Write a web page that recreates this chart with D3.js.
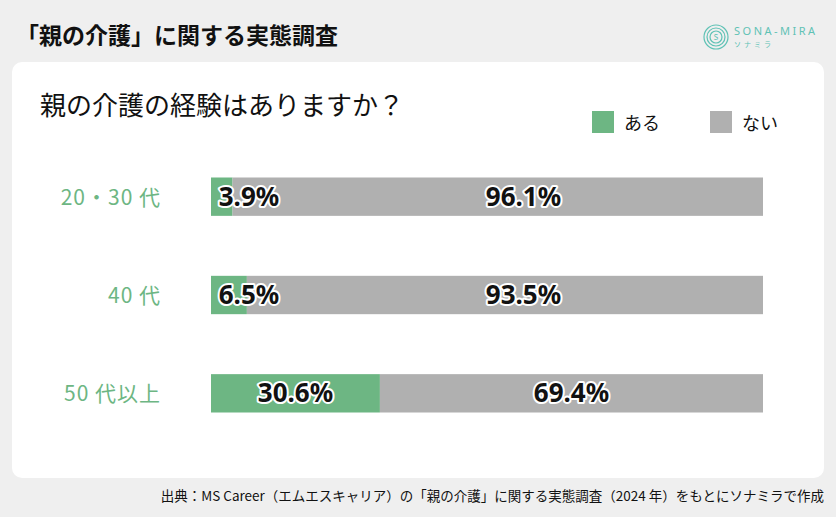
<!DOCTYPE html>
<html><head><meta charset="utf-8">
<script src="https://cdn.jsdelivr.net/npm/d3@7"></script>
<style>body{margin:0;background:#efefef;font-family:"Noto Sans CJK JP","Noto Sans",sans-serif;}</style>
</head><body><svg id="c" width="836" height="517"></svg>
<script>
// data
let categories = ['20・30 代', '40 代', '50 代以上'];
let aru = [3.9, 6.5, 30.6];
let nai = [96.1, 93.5, 69.4];
let legendLabels = ['ある', 'ない'];

let green = '#6db683', grey = '#b0b0b0';
let svg = d3.select('#c');

svg.append('rect').attr('width', 836).attr('height', 517).attr('fill', '#efefef');
svg.append('rect').attr('x', 12).attr('y', 62).attr('width', 812).attr('height', 416)
    .attr('rx', 10).attr('fill', '#fff');

svg.append('text').attr('x', 16).attr('y', 44).text('「親の介護」に関する実態調査')
    .attr('font-size', 23).attr('font-weight', 700).attr('fill', '#111');

// logo
let logo = svg.append('g').attr('transform', 'translate(716,37)');
[12, 9, 6].forEach(function(r) {
    logo.append('circle').attr('r', r).attr('fill', 'none').attr('stroke', '#5fc2b5').attr('stroke-width', 1.2);
});
logo.append('text').attr('text-anchor', 'middle').attr('y', 3).attr('font-size', 8).attr('fill', '#5fc2b5').text('S');
logo.append('text').attr('x', 18).attr('y', -2).attr('font-size', 11).attr('letter-spacing', 2.5)
    .attr('fill', '#5fc2b5').attr('font-family', 'Noto Sans').text('SONA-MIRA');
logo.append('text').attr('x', 18).attr('y', 10).attr('font-size', 7).attr('letter-spacing', 3)
    .attr('fill', '#5fc2b5').text('ソナミラ');

svg.append('text').attr('x', 40).attr('y', 115).text('親の介護の経験はありますか？')
    .attr('font-size', 26).attr('fill', '#111');

// legend
let lx = [592, 710];
legendLabels.forEach(function(l, i) {
    svg.append('rect').attr('x', lx[i]).attr('y', 111).attr('width', 22).attr('height', 22)
        .attr('fill', i ? grey : green);
    svg.append('text').attr('x', lx[i] + 32).attr('y', 130).attr('font-size', 18).attr('fill', '#111').text(l);
});

let x = d3.scaleLinear().domain([0, 100]).range([211, 763]);
let y = d3.scaleBand().domain(categories).range([148, 442]).paddingInner(0.61).paddingOuter(0.3);

let rows = svg.append('g').selectAll('g').data(categories).join('g')
    .attr('transform', function(d) { return 'translate(0,' + y(d) + ')'; });
let bh = y.bandwidth();

rows.append('text').attr('x', 161).attr('y', bh / 2 + 8).attr('text-anchor', 'end')
    .attr('font-size', 21).attr('letter-spacing', 1).attr('fill', green).text(function(d) { return d; });

rows.append('rect').attr('x', x(0)).attr('height', bh)
    .attr('width', function(d, i) { return x(aru[i]) - x(0); }).attr('fill', green);
rows.append('rect').attr('x', function(d, i) { return x(aru[i]); }).attr('height', bh)
    .attr('width', function(d, i) { return x(100) - x(aru[i]); }).attr('fill', grey);

function lab(sel, txt, px) {
    sel.append('text').attr('x', px).attr('y', bh / 2 + 9).attr('text-anchor', 'middle')
        .attr('font-size', 26).attr('font-weight', 700).attr('font-family', 'Noto Sans')
        .attr('stroke', '#fff').attr('stroke-width', 4).attr('paint-order', 'stroke')
        .attr('stroke-linejoin', 'round').attr('fill', '#111').text(txt);
}
rows.each(function(d, i) {
    let g = d3.select(this);
    let halfW = 35;
    let gx = Math.max((x(0) + x(aru[i])) / 2, x(0) + halfW + 3);
    lab(g, aru[i] + '%', gx);
    let left = Math.max(x(aru[i]), gx + halfW);
    lab(g, nai[i] + '%', (left + x(100)) / 2);
});

svg.append('text').attr('x', 824).attr('y', 501).attr('text-anchor', 'end').attr('font-size', 13.5)
    .attr('fill', '#111').text('出典：MS Career（エムエスキャリア）の「親の介護」に関する実態調査（2024 年）をもとにソナミラで作成');
</script></body></html>
